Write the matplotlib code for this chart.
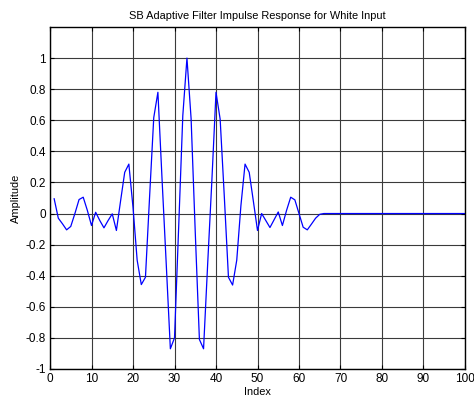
import numpy as np
import matplotlib
matplotlib.use("Agg")
import matplotlib.pyplot as plt

plt.rcParams['font.family'] = ['Liberation Sans', 'DejaVu Sans']

# impulse response, index 1..65, zero after
head = [0.095, -0.03, -0.066, -0.105, -0.083, 0.0, 0.09, 0.105, 0.02, -0.077,
        0.008, -0.045, -0.092, -0.045, -0.002, -0.109, 0.08, 0.265, 0.318, 0.04,
        -0.30, -0.457, -0.41, 0.11, 0.617, 0.78, 0.22, -0.32, -0.87, -0.80,
        -0.09, 0.63, 1.0, 0.61, -0.12, -0.81, -0.87, -0.32, 0.21, 0.78,
        0.607, 0.11, -0.41, -0.46, -0.30, 0.05, 0.318, 0.265, 0.08, -0.109,
        0.0, -0.045, -0.09, -0.04, 0.01, -0.077, 0.02, 0.105, 0.088, 0.0,
        -0.088, -0.105, -0.068, -0.03, -0.005]
amplitude = np.zeros(100)
amplitude[:len(head)] = head
index = np.arange(1, 101)

fig = plt.figure(figsize=(4.74, 4.07), dpi=100)
ax = fig.add_axes([0.1055, 0.0934, 0.8755, 0.8403])

ax.plot(index, amplitude, color='#0000ff', linewidth=0.9)

ax.set_xlim(0, 100)
ax.set_ylim(-1, 1.2)
ax.set_xticks(np.arange(0, 101, 10))
ax.set_yticks(np.arange(-1, 1.01, 0.2))
ax.set_yticklabels(['-1', '-0.8', '-0.6', '-0.4', '-0.2', '0', '0.2', '0.4', '0.6', '0.8', '1'])
ax.grid(True, color='#3a3a3a', linewidth=0.8)
ax.tick_params(direction='in', length=3, labelsize=8.5, top=True, right=True, pad=3)
for s in ax.spines.values():
    s.set_linewidth(1.0)

ax.set_title('SB Adaptive Filter Impulse Response for White Input', fontsize=7.9, pad=6)
ax.set_xlabel('Index', fontsize=7.9, labelpad=1)
ax.set_ylabel('Amplitude', fontsize=7.9, labelpad=3)

fig.savefig('out.png', dpi=100)
